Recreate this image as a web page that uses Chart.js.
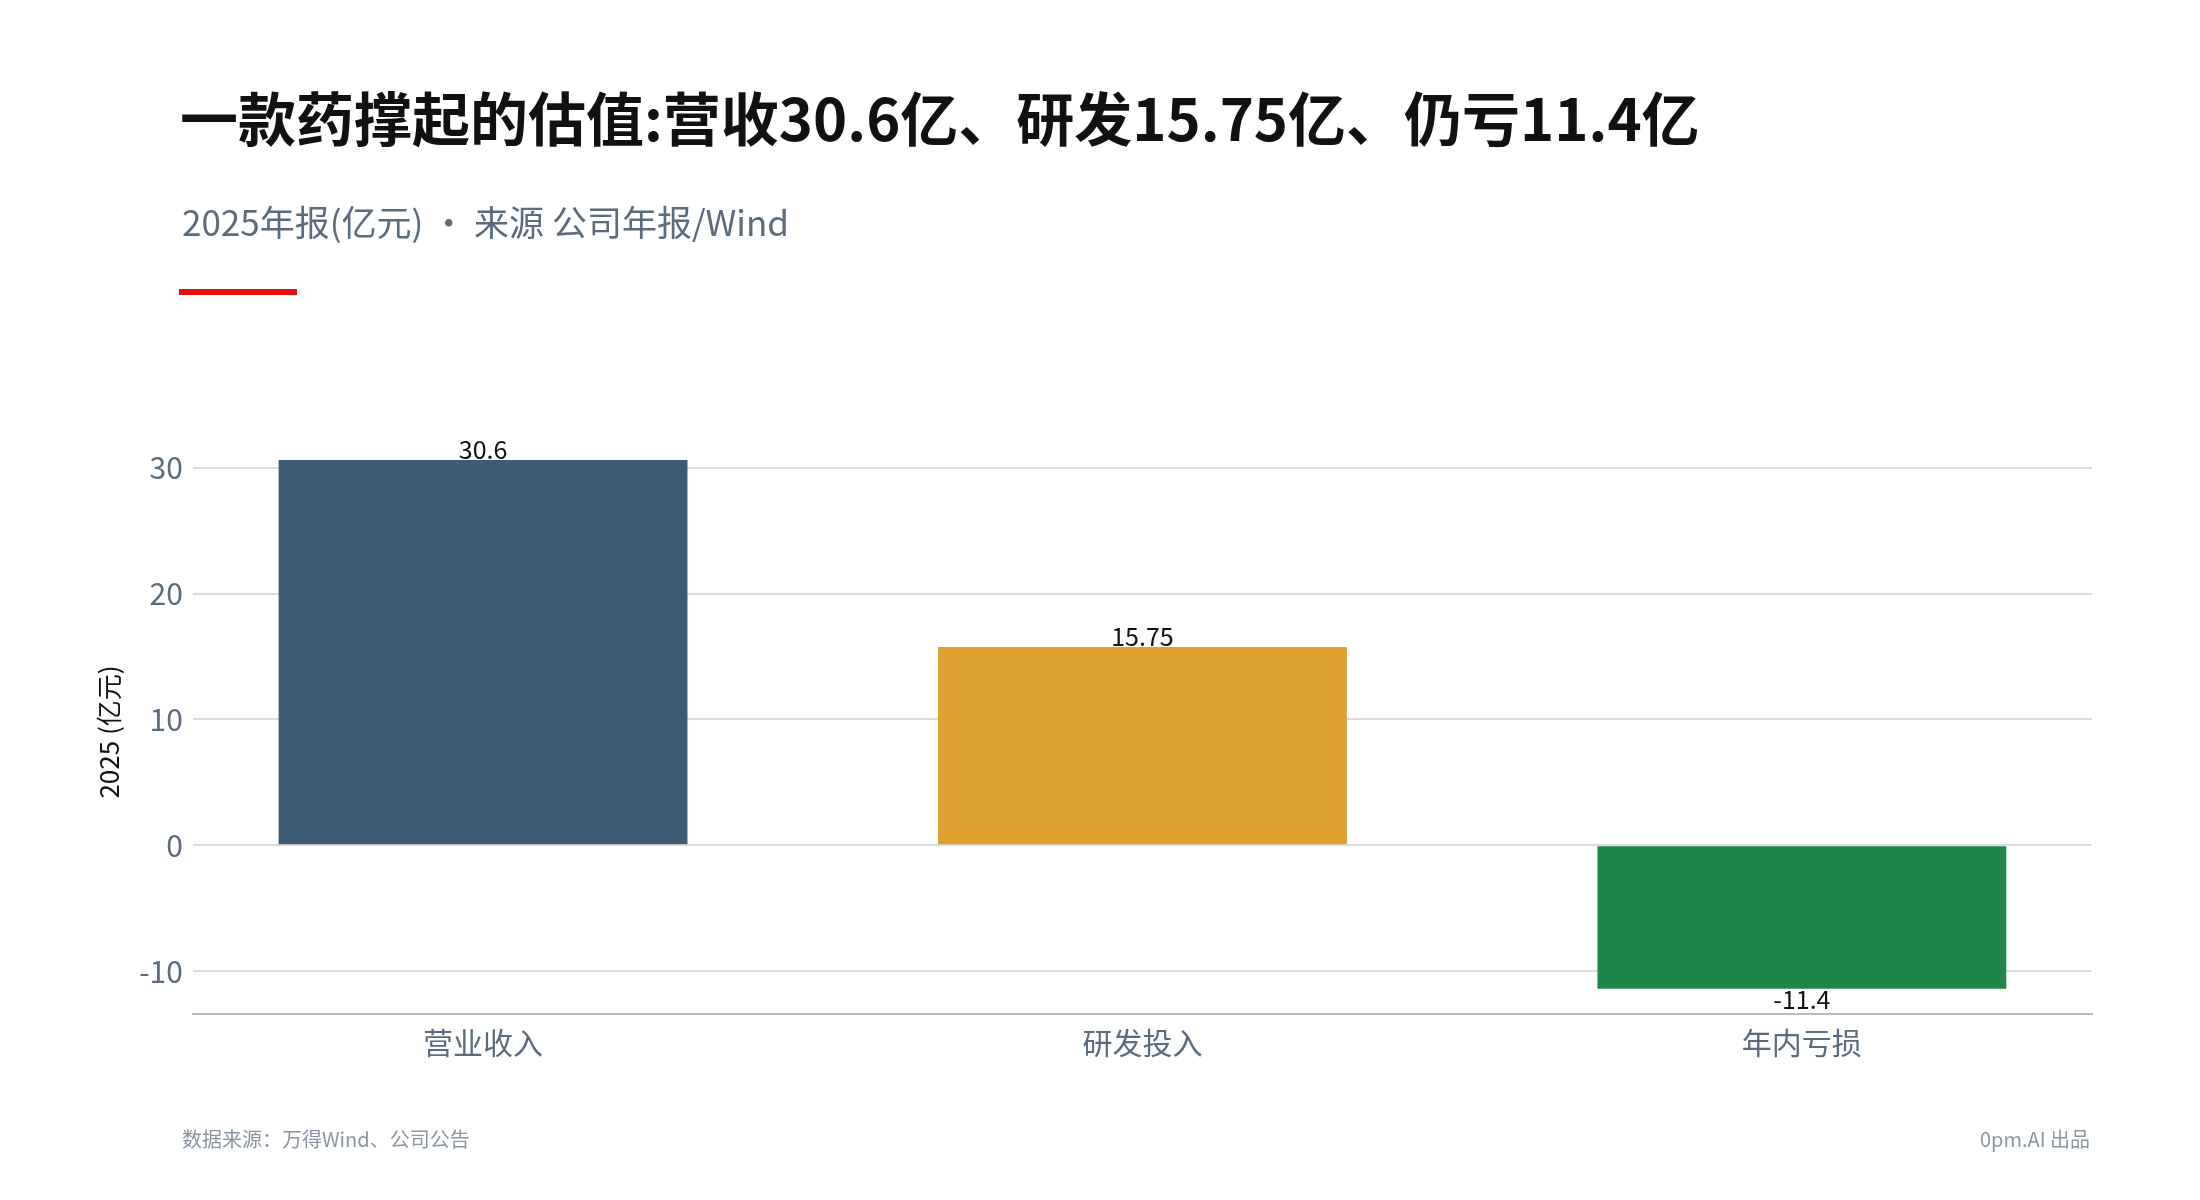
<!DOCTYPE html>
<html><head><meta charset="utf-8">
<script src="https://cdn.jsdelivr.net/npm/chart.js@4/dist/chart.umd.min.js"></script>
<style>
body{margin:0;width:2200px;height:1200px;background:#fff;font-family:"Noto Sans CJK SC","Noto Sans",sans-serif;position:relative;overflow:hidden}
#t{position:absolute;left:180px;top:74px;font-size:58px;font-weight:700;color:#111}
#s{position:absolute;left:182px;top:195px;font-size:35px;color:#5a6b7d}
#r{position:absolute;left:179px;top:289px;width:118px;height:6px;background:#e3120b}
#f1{position:absolute;left:182px;top:1124px;font-size:20px;color:#8a96a3}
#f2{position:absolute;right:110px;top:1124px;font-size:20px;color:#8a96a3}
canvas{position:absolute;left:0;top:0}
</style></head><body>
<canvas id="c" width="2200" height="1200"></canvas>
<div id="t">一款药撑起的估值:营收30.6亿、研发15.75亿、仍亏11.4亿</div>
<div id="s">2025年报(亿元) · 来源 公司年报/Wind</div>
<div id="r"></div>
<div id="f1">数据来源：万得Wind、公司公告</div>
<div id="f2">0pm.AI 出品</div>
<script>
const categories=["营业收入","研发投入","年内亏损"];
const values=[30.6,15.75,-11.4];
const colors=["#3e5b74","#dea030","#1f854a"];
const labelsTxt=["30.6","15.75","-11.4"];
const yTicks=[-10,0,10,20,30];
const font="'Noto Sans CJK SC','Noto Sans',sans-serif";
const lbl={id:'lbl',afterDatasetsDraw(ch){const ctx=ch.ctx;const m=ch.getDatasetMeta(0);ctx.save();ctx.font="25px "+font;ctx.fillStyle="#111";ctx.textAlign="center";
m.data.forEach((b,i)=>{if(values[i]>=0){ctx.textBaseline="bottom";ctx.fillText(labelsTxt[i],b.x,b.y+2);}else{ctx.textBaseline="top";ctx.fillText(labelsTxt[i],b.x,b.y-2);}});ctx.restore();}};
new Chart(document.getElementById('c'),{type:'bar',
data:{datasets:[{data:values.map((v,i)=>({x:i,y:v})),backgroundColor:colors,barPercentage:0.62,categoryPercentage:1}]},
plugins:[lbl],
options:{responsive:false,animation:false,layout:{padding:{top:450,bottom:136,left:90,right:108}},
plugins:{legend:{display:false},tooltip:{enabled:false}},
scales:{
x:{type:'linear',min:-0.44,max:2.44,offset:false,afterBuildTicks(a){a.ticks=categories.map((c,i)=>({value:i}));},
grid:{display:false},border:{display:true,color:'#bbb',width:2},
ticks:{color:'#5a6b7d',font:{family:font,size:30},callback:(v)=>categories[v]}},
y:{min:-13.4,max:31.4,afterBuildTicks(a){a.ticks=yTicks.map(v=>({value:v}));},
grid:{color:'#dcdcdc',lineWidth:2,drawTicks:false},border:{display:false},
ticks:{color:'#5a6b7d',padding:10,font:{family:font,size:30}},
title:{display:true,text:'2025 (亿元)',color:'#111',font:{family:font,size:26}}}}}});
</script></body></html>
